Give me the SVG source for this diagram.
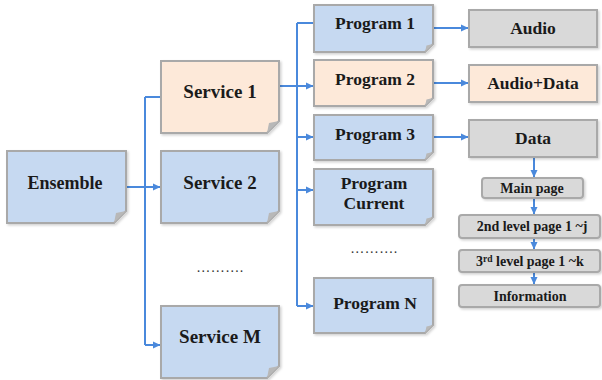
<svg xmlns="http://www.w3.org/2000/svg" width="602" height="380" viewBox="0 0 602 380">
<defs>
<marker id="ah" markerWidth="8" markerHeight="8" refX="7" refY="4" orient="auto" markerUnits="userSpaceOnUse">
<path d="M0,0.5 L7.5,4 L0,7.5 Z" fill="#4a89dc"/>
</marker>
<filter id="sh" x="-10%" y="-10%" width="130%" height="130%">
<feDropShadow dx="1.5" dy="1.5" stdDeviation="1" flood-color="#000" flood-opacity="0.18"/>
</filter>
</defs>
<style>
.blue{fill:#c6d9f1;stroke:#a9a9a9;stroke-width:2;filter:url(#sh)}
.peach{fill:#fde9d9;stroke:#a9a9a9;stroke-width:2;filter:url(#sh)}
.gray{fill:#d9d9d9;stroke:#a9a9a9;stroke-width:2;filter:url(#sh)}
.fold{fill:#b8b8b8;stroke:none}
.t{font-family:"Liberation Serif","Times New Roman",serif;font-weight:bold;font-size:17.5px;fill:#1a1a1a;text-anchor:middle}
.L{font-size:19px}
.e{font-size:18px}
.s{font-family:"Liberation Serif","Times New Roman",serif;font-weight:bold;font-size:14px;fill:#1a1a1a;text-anchor:middle}
.c{stroke:#4a89dc;stroke-width:2;fill:none}
.a{stroke:#4a89dc;stroke-width:2;fill:none;marker-end:url(#ah)}
.dots{font-family:"Liberation Serif","Times New Roman",serif;font-size:14px;fill:#333;text-anchor:middle;letter-spacing:0.5px}
</style>

<g id="connectors">
<path class="c" d="M126,187 H145 M145,97 V345 M145,97 H161"/>
<path class="a" d="M145,187 H160"/>
<path class="a" d="M145,345 H160"/>
<path class="c" d="M279,86 H297 M297,23 V306 M297,23 H314"/>
<path class="a" d="M297,86 H313"/>
<path class="a" d="M297,137 H313"/>
<path class="a" d="M297,190 H313"/>
<path class="a" d="M297,306 H313"/>
<path class="a" d="M433,28 H468"/>
<path class="a" d="M433,83 H468"/>
<path class="a" d="M433,137 H468"/>
<path class="a" d="M534,157 V177"/>
<path class="a" d="M534,198 V214"/>
<path class="a" d="M534,238 V249"/>
<path class="a" d="M534,272 V284"/>
</g>

<g id="ensemble">
<path class="blue" d="M7,151 H126 V211 L114,223 H7 Z"/>
<path class="fold" d="M114,223 L126,211 L116,213 Z"/>
<text class="t e" x="65" y="189">Ensemble</text>
</g>

<g id="service1">
<path class="peach" d="M161,61 H279 V121 L267,133 H161 Z"/>
<path class="fold" d="M267,133 L279,121 L269,123 Z"/>
<text class="t L" x="220" y="98">Service 1</text>
</g>

<g id="service2">
<path class="blue" d="M161,151 H279 V211 L267,223 H161 Z"/>
<path class="fold" d="M267,223 L279,211 L269,213 Z"/>
<text class="t L" x="220" y="189">Service 2</text>
</g>

<text class="dots" x="220" y="272">……….</text>

<g id="serviceM">
<path class="blue" d="M161,306 H279 V366 L267,378 H161 Z"/>
<path class="fold" d="M267,378 L279,366 L269,368 Z"/>
<text class="t L" x="220" y="343">Service M</text>
</g>

<g id="program1">
<path class="blue" d="M314,5 H433 V44 L425,52 H314 Z"/>
<path class="fold" d="M425,52 L433,44 L426.5,45.5 Z"/>
<text class="t" x="375" y="29">Program  1</text>
</g>

<g id="program2">
<path class="peach" d="M314,60 H433 V98 L425,106 H314 Z"/>
<path class="fold" d="M425,106 L433,98 L426.5,99.5 Z"/>
<text class="t" x="375" y="85">Program  2</text>
</g>

<g id="program3">
<path class="blue" d="M314,115 H433 V152 L425,160 H314 Z"/>
<path class="fold" d="M425,160 L433,152 L426.5,153.5 Z"/>
<text class="t" x="375" y="140">Program  3</text>
</g>

<g id="programCurrent">
<path class="blue" d="M314,169 H433 V217 L425,225 H314 Z"/>
<path class="fold" d="M425,225 L433,217 L426.5,218.5 Z"/>
<text class="t" x="374" y="189">Program</text>
<text class="t" x="374" y="209">Current</text>
</g>

<text class="dots" x="374" y="253">……….</text>

<g id="programN">
<path class="blue" d="M314,278 H433 V325 L425,333 H314 Z"/>
<path class="fold" d="M425,333 L433,325 L426.5,326.5 Z"/>
<text class="t" x="375" y="309">Program  N</text>
</g>

<g id="audio">
<rect class="gray" x="469" y="10" width="128" height="37"/>
<text class="t" x="533" y="34">Audio</text>
</g>

<g id="audioData">
<rect class="peach" x="469" y="65" width="128" height="37"/>
<text class="t" x="533" y="89">Audio+Data</text>
</g>

<g id="data">
<rect class="gray" x="469" y="120" width="128" height="37"/>
<text class="t" x="533" y="144">Data</text>
</g>

<g id="mainPage">
<rect class="gray" x="482" y="178" width="101" height="20" rx="3"/>
<text class="s" x="532" y="193">Main page</text>
</g>

<g id="level2">
<rect class="gray" x="459" y="215" width="141" height="23" rx="3"/>
<text class="s" x="532" y="231">2nd level page 1 ~j</text>
</g>

<g id="level3">
<rect class="gray" x="459" y="250" width="141" height="22" rx="3"/>
<text class="s" x="530" y="266">3<tspan font-size="9.5" dy="-4">rd</tspan><tspan dy="4"> level page 1 ~k</tspan></text>
</g>

<g id="information">
<rect class="gray" x="459" y="285" width="141" height="22" rx="3"/>
<text class="s" x="530" y="301">Information</text>
</g>
</svg>
